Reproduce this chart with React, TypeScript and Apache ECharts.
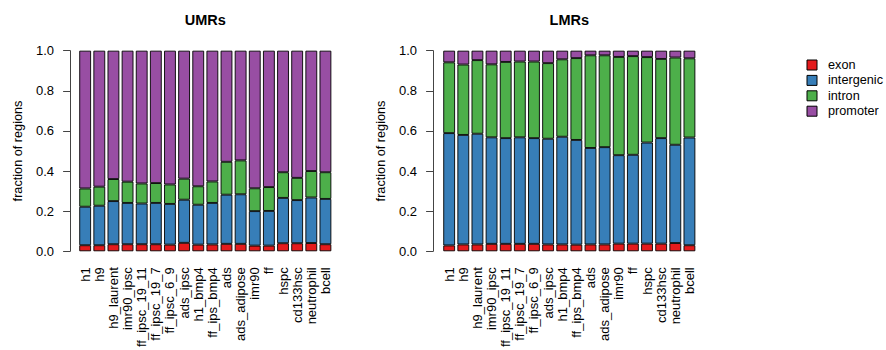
import React, { useEffect, useRef } from "react";
import * as echarts from "echarts";

const categories = [
  "h1", "h9", "h9_laurent", "imr90_ipsc", "ff_ipsc_19_11", "ff_ipsc_19_7",
  "ff_ipsc_6_9", "ads_ipsc", "h1_bmp4", "ff_ips_bmp4", "ads", "ads_adipose",
  "imr90", "ff", "hspc", "cd133hsc", "neutrophil", "bcell",
];

const seriesNames = ["exon", "intergenic", "intron", "promoter"];
const seriesColors = ["#E41A1C", "#377EB8", "#4DAF4A", "#984EA3"];

const umrExon = [0.030, 0.030, 0.035, 0.035, 0.035, 0.035, 0.033, 0.042, 0.033, 0.034, 0.037, 0.037, 0.028, 0.028, 0.040, 0.040, 0.041, 0.035];
const umrIntergenic = [0.192, 0.197, 0.215, 0.206, 0.203, 0.206, 0.203, 0.215, 0.199, 0.207, 0.245, 0.247, 0.172, 0.173, 0.226, 0.215, 0.227, 0.226];
const umrIntron = [0.091, 0.095, 0.110, 0.106, 0.100, 0.099, 0.097, 0.105, 0.092, 0.107, 0.164, 0.169, 0.114, 0.119, 0.128, 0.111, 0.132, 0.133];
const umrPromoter = [0.687, 0.678, 0.640, 0.653, 0.662, 0.660, 0.667, 0.638, 0.676, 0.652, 0.554, 0.547, 0.686, 0.680, 0.606, 0.634, 0.600, 0.606];

const lmrExon = [0.029, 0.034, 0.034, 0.037, 0.037, 0.037, 0.037, 0.034, 0.034, 0.033, 0.034, 0.034, 0.038, 0.038, 0.038, 0.038, 0.041, 0.030];
const lmrIntergenic = [0.560, 0.546, 0.552, 0.531, 0.527, 0.531, 0.527, 0.527, 0.537, 0.522, 0.481, 0.485, 0.441, 0.443, 0.504, 0.526, 0.490, 0.537];
const lmrIntron = [0.353, 0.351, 0.367, 0.364, 0.380, 0.378, 0.382, 0.377, 0.386, 0.408, 0.462, 0.458, 0.490, 0.492, 0.426, 0.395, 0.435, 0.395];
const lmrPromoter = [0.058, 0.069, 0.047, 0.068, 0.056, 0.054, 0.054, 0.062, 0.043, 0.037, 0.023, 0.023, 0.031, 0.027, 0.032, 0.041, 0.034, 0.038];

const yTicks = [0, 0.2, 0.4, 0.6, 0.8, 1.0];
const panelTitles = ["UMRs", "LMRs"];
const yAxisName = "fraction of regions";

const FONT = "'Liberation Sans', Arial, Helvetica, sans-serif";

export default function App() {
  const ref = useRef<HTMLDivElement>(null);

  useEffect(() => {
    if (!ref.current) return;
    const chart = echarts.init(ref.current, undefined, { renderer: "svg" });

    const umrData = [umrExon, umrIntergenic, umrIntron, umrPromoter];
    const lmrData = [lmrExon, lmrIntergenic, lmrIntron, lmrPromoter];

    const gridLefts = [78.1, 442.1];
    const gridWidth = 254.4;
    const axisOffsets = [8, 9];

    const series: any[] = [];
    [umrData, lmrData].forEach((panel, p) => {
      panel.forEach((vals, i) => {
        series.push({
          name: seriesNames[i],
          type: "bar",
          xAxisIndex: p,
          yAxisIndex: p,
          stack: "panel" + p,
          barWidth: 11.8,
          data: vals,
          itemStyle: {
            color: seriesColors[i],
            borderColor: "#000",
            borderWidth: 0.9,
          },
          emphasis: { disabled: true },
        });
      });
    });

    const legendItems: any[] = [];
    const legendRowY = [65, 80.4, 95.8, 111.2];
    seriesNames.forEach((n, i) => {
      legendItems.push({
        type: "rect",
        shape: { x: 807, y: legendRowY[i] - 5, width: 10, height: 10 },
        style: { fill: seriesColors[i], stroke: "#000", lineWidth: 1 },
      });
      legendItems.push({
        type: "text",
        x: 828,
        y: legendRowY[i],
        style: {
          text: n,
          fontSize: 12.7,
          fill: "#000",
          fontFamily: FONT,
          textAlign: "left",
          textVerticalAlign: "middle",
        },
      });
    });

    const option: any = {
      animation: false,
      textStyle: { fontFamily: FONT },
      grid: gridLefts.map((l) => ({
        left: l,
        width: gridWidth,
        top: 50.7,
        height: 201,
        containLabel: false,
      })),
      xAxis: gridLefts.map((_, p) => ({
        type: "category",
        gridIndex: p,
        data: categories,
        axisLine: { show: false },
        axisTick: { show: false },
        axisLabel: {
          interval: 0,
          rotate: 90,
          margin: 16,
          fontSize: 13,
          color: "#000",
          fontFamily: FONT,
        },
      })),
      yAxis: gridLefts.map((_, p) => ({
        type: "value",
        gridIndex: p,
        min: 0,
        max: 1,
        interval: 0.2,
        offset: axisOffsets[p],
        name: yAxisName,
        nameLocation: "middle",
        nameGap: 46,
        nameTextStyle: { fontSize: 12.7, color: "#000", fontFamily: FONT },
        splitLine: { show: false },
        axisLine: { show: true, lineStyle: { color: "#444", width: 1 } },
        axisTick: { show: true, length: 7, lineStyle: { color: "#444" } },
        axisLabel: {
          margin: 16,
          fontSize: 13,
          color: "#000",
          fontFamily: FONT,
          formatter: (v: number) =>
            yTicks.some((t) => Math.abs(t - v) < 1e-9) ? v.toFixed(1) : "",
        },
      })),
      graphic: [
        ...panelTitles.map((t, p) => ({
          type: "text",
          x: gridLefts[p] + gridWidth / 2,
          y: 20,
          style: {
            text: t,
            fontSize: 14.5,
            fontWeight: "bold",
            fill: "#000",
            fontFamily: FONT,
            textAlign: "center",
            textVerticalAlign: "middle",
          },
        })),
        ...legendItems,
      ],
      series,
    };

    chart.setOption(option);
    return () => chart.dispose();
  }, []);

  return (
    <div
      ref={ref}
      style={{ position: "fixed", left: 0, top: 0, width: 886, height: 350, background: "#fff" }}
    />
  );
}
